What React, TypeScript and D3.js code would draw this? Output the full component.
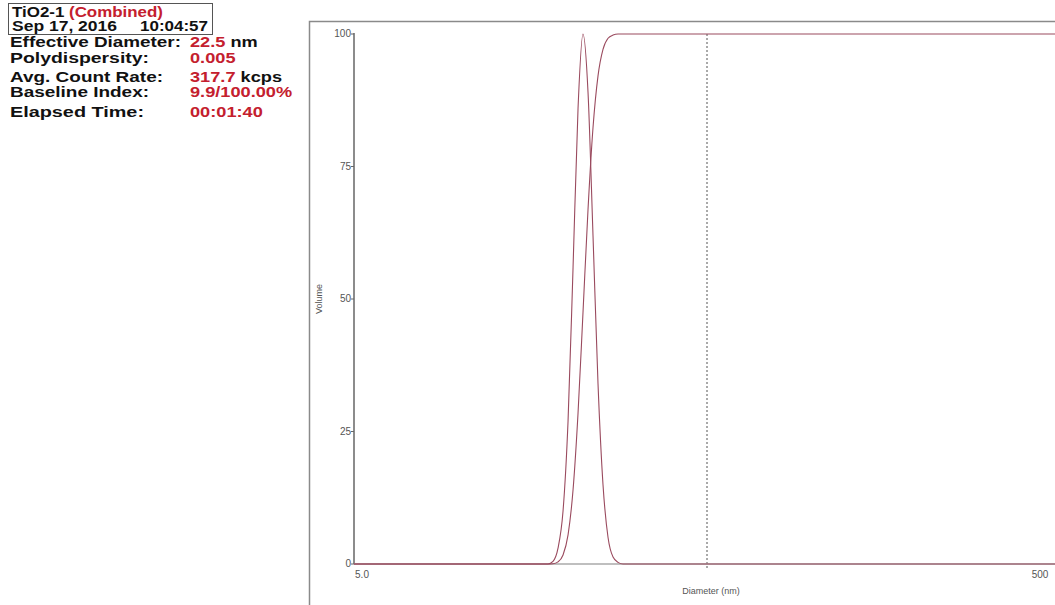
import React, { useEffect, useRef } from 'react';
import * as d3 from 'd3';

// size distribution (volume %)
const diameters = [5, 17.72, 18.31, 18.92, 19.55, 20.2, 20.87, 21.56, 22.27, 23.01, 23.77, 24.56, 25.37, 26.22, 27.09, 27.99, 28.91, 500];
const volume = [0, 0, 0.5, 3, 10, 27, 56, 86, 100, 89, 62, 34, 15, 5, 1.3, 0.3, 0, 0];
const cumulative = [0, 0, 0.05, 0.4, 1.7, 5.5, 14, 28.5, 47.5, 66.9, 82.3, 92.1, 97.1, 99.2, 99.8, 100, 100, 100];

const yTicks = [0, 25, 50, 75, 100];
const xTickLabels = [
  { v: 5, label: '5.0' },
  { v: 500, label: '500' },
];

// label, its width in the picture, value, unit
const infoRows = [
  { label: 'Effective Diameter:', w: 171, value: '22.5', unit: ' nm', y: 47 },
  { label: 'Polydispersity:', w: 139, value: '0.005', unit: '', y: 63 },
  { label: 'Avg. Count Rate:', w: 153, value: '317.7', unit: ' kcps', y: 82 },
  { label: 'Baseline Index:', w: 139, value: '9.9/100.00%', unit: '', y: 97 },
  { label: 'Elapsed Time:', w: 134, value: '00:01:40', unit: '', y: 117 },
];

const W = 1055;
const H = 605;
const RED = '#c4202e';
const CURVE = '#9a4a5e';

export default function App() {
  const ref = useRef<SVGSVGElement>(null);

  useEffect(() => {
    if (!ref.current) return;
    const svg = d3.select(ref.current);
    svg.selectAll('*').remove();

    svg.append('rect').attr('width', W).attr('height', H).attr('fill', '#fff');

    // --- info block ---
    const info = svg.append('g').attr('font-family', 'Liberation Sans, Arial, sans-serif')
      .attr('font-weight', 'bold').attr('font-size', 14).attr('fill', '#111');

    info.append('rect').attr('x', 8.5).attr('y', 3.5).attr('width', 204).attr('height', 31)
      .attr('fill', 'none').attr('stroke', '#555').attr('stroke-width', 1);

    const t1 = info.append('text').attr('transform', 'translate(12,17) scale(1.21,1)');
    t1.append('tspan').text('TiO2-1 ');
    t1.append('tspan').attr('fill', RED).text('(Combined)');
    info.append('text').attr('x', 12).attr('y', 31).attr('textLength', 105)
      .attr('lengthAdjust', 'spacingAndGlyphs').text('Sep 17, 2016');
    info.append('text').attr('x', 140).attr('y', 31).attr('textLength', 68)
      .attr('lengthAdjust', 'spacingAndGlyphs').text('10:04:57');

    infoRows.forEach(r => {
      info.append('text').attr('x', 10).attr('y', r.y).attr('textLength', r.w)
        .attr('lengthAdjust', 'spacingAndGlyphs').text(r.label);
      const v = info.append('text').attr('transform', `translate(190,${r.y}) scale(1.3,1)`).attr('fill', RED);
      v.append('tspan').text(r.value);
      if (r.unit) v.append('tspan').attr('fill', '#111').text(r.unit);
    });

    // --- chart frame ---
    svg.append('rect').attr('x', 309.5).attr('y', 21.5).attr('width', 800).attr('height', 700)
      .attr('fill', 'none').attr('stroke', '#8a8a8a').attr('stroke-width', 1.5);

    const left = 354, right = 1060, top = 34, bottom = 564;
    const x = d3.scaleLog().domain([5, 500]).range([left, right]);
    const y = d3.scaleLinear().domain([0, 100]).range([bottom, top]);

    const g = svg.append('g').attr('font-family', 'Liberation Sans, Arial, sans-serif').attr('font-size', 10).attr('fill', '#555');

    // dashed line at 50 nm
    g.append('line').attr('x1', x(50)).attr('x2', x(50)).attr('y1', top).attr('y2', bottom + 6)
      .attr('stroke', '#555').attr('stroke-dasharray', '2,2').attr('stroke-width', 1);

    // y axis
    g.append('line').attr('x1', left).attr('x2', left).attr('y1', top - 1).attr('y2', bottom)
      .attr('stroke', '#666').attr('stroke-width', 1.5);
    yTicks.forEach(t => {
      g.append('line').attr('x1', left - 3).attr('x2', left).attr('y1', y(t)).attr('y2', y(t))
        .attr('stroke', '#666');
      g.append('text').attr('x', left - 3).attr('y', y(t) + 3).attr('text-anchor', 'end').text(t);
    });
    g.append('text').attr('transform', `translate(322,${(top + bottom) / 2}) rotate(-90)`)
      .attr('text-anchor', 'middle').attr('font-size', 9).text('Volume');

    // x axis
    g.append('line').attr('x1', left).attr('x2', right).attr('y1', bottom).attr('y2', bottom)
      .attr('stroke', '#aaa').attr('stroke-width', 1.5);
    xTickLabels.forEach(t => {
      g.append('text').attr('x', t.v === 5 ? x(t.v) + 8 : x(t.v) - 20).attr('y', bottom + 14)
        .attr('text-anchor', 'middle').text(t.label);
    });
    g.append('text').attr('x', 711).attr('y', bottom + 30).attr('text-anchor', 'middle')
      .attr('font-size', 9).text('Diameter (nm)');

    // curves
    const line = d3.line<number>()
      .x((_, i) => x(diameters[i]))
      .curve(d3.curveMonotoneX);

    svg.append('path').datum(volume)
      .attr('d', line.y(d => y(d))(volume) as string)
      .attr('fill', 'none').attr('stroke', CURVE).attr('stroke-width', 1.1);
    svg.append('path').datum(cumulative)
      .attr('d', line.y(d => y(d))(cumulative) as string)
      .attr('fill', 'none').attr('stroke', CURVE).attr('stroke-width', 1.1);
  }, []);

  return (
    <svg ref={ref} width={W} height={H}
      style={{ position: 'absolute', left: 0, top: 0, display: 'block' }} />
  );
}
